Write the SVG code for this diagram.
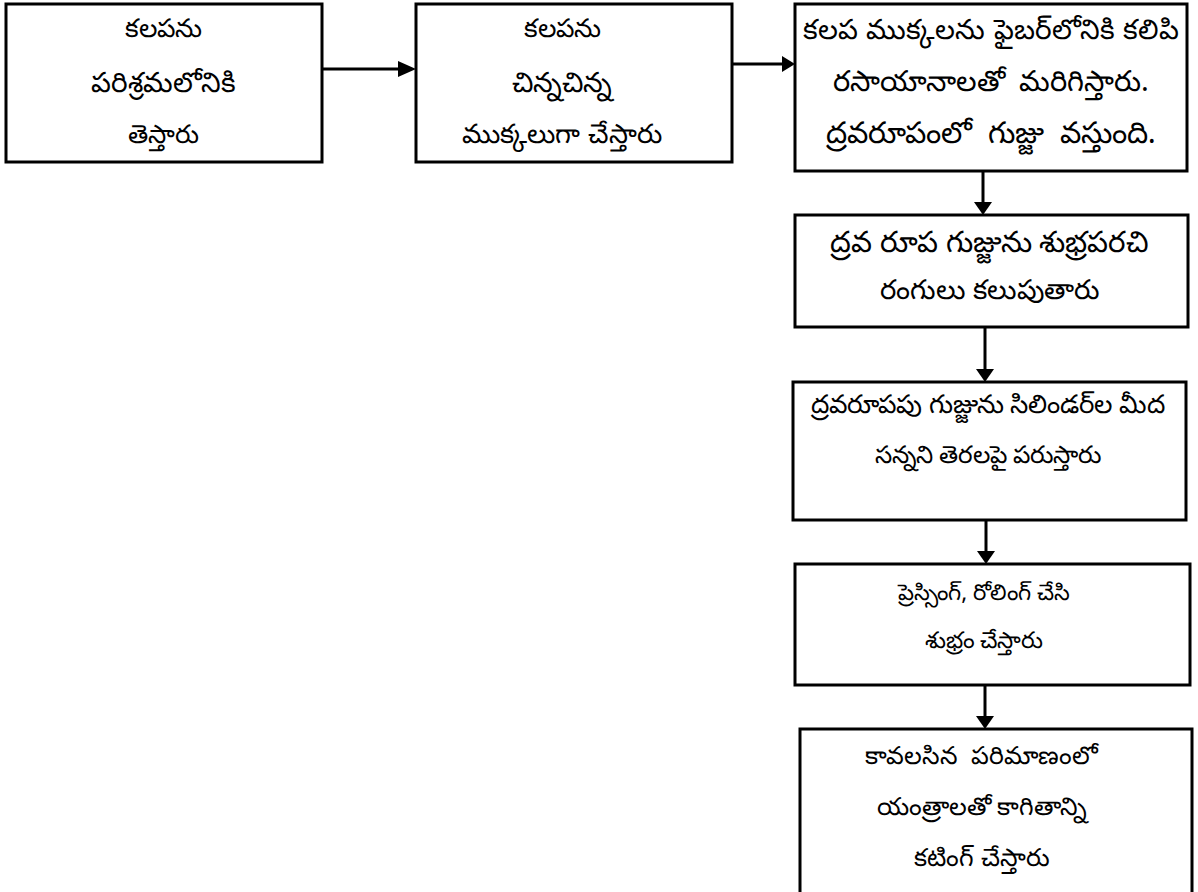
<svg xmlns="http://www.w3.org/2000/svg" width="1198" height="892" viewBox="0 0 1198 892">
<defs>
<style>
.box{fill:#fff;stroke:#000;stroke-width:3}
.t{font-family:"Noto Sans","Noto Sans CJK SC",sans-serif;font-size:26px;fill:#000;text-anchor:middle}
.c{stroke:#000;stroke-width:3;fill:none}
.h{fill:#000;stroke:none}
</style>
</defs>
<rect width="1198" height="892" fill="#fff"/>
<g id="connectors">
<line class="c" x1="322" y1="69" x2="398" y2="69"/>
<polygon class="h" points="398,61 416,69 398,77"/>
<line class="c" x1="732" y1="64" x2="783" y2="64"/>
<polygon class="h" points="782,56 795,64 782,72"/>
<line class="c" x1="983" y1="171" x2="983" y2="203"/>
<polygon class="h" points="974,202 983,215 992,202"/>
<line class="c" x1="985" y1="327" x2="985" y2="370"/>
<polygon class="h" points="976,369 985,382 994,369"/>
<line class="c" x1="986" y1="520" x2="986" y2="552"/>
<polygon class="h" points="977,551 986,564 995,551"/>
<line class="c" x1="985" y1="685" x2="985" y2="717"/>
<polygon class="h" points="976,716 985,729 994,716"/>
</g>
<g id="n1">
<rect class="box" x="6" y="4" width="316" height="158"/>
<text class="t" x="163" y="37">కలపను</text>
<text class="t" x="163" y="92" style="font-size:28px">పరిశ్రమలోనికి</text>
<text class="t" x="163" y="143">తెస్తారు</text>
</g>
<g id="n2">
<rect class="box" x="416" y="4" width="316" height="158"/>
<text class="t" x="562" y="37">కలపను</text>
<text class="t" x="562" y="92" style="font-size:28px">చిన్నచిన్న</text>
<text class="t" x="562" y="143" style="font-size:27px">ముక్కలుగా చేస్తారు</text>
</g>
<g id="n3">
<rect class="box" x="795" y="4" width="392" height="167"/>
<text class="t" x="991" y="39" style="font-size:28px;word-spacing:1px">కలప ముక్కలను ఫైబర్‌లోనికి కలిపి</text>
<text class="t" x="991" y="91" style="font-size:29px;word-spacing:6px">రసాయానాలతో మరిగిస్తారు.</text>
<text class="t" x="991" y="143" style="font-size:30px;word-spacing:8px">ద్రవరూపంలో గుజ్జు వస్తుంది.</text>
</g>
<g id="n4">
<rect class="box" x="795" y="215" width="393" height="112"/>
<text class="t" x="990" y="252" style="font-size:29.5px">ద్రవ రూప గుజ్జును శుభ్రపరచి</text>
<text class="t" x="990" y="299" style="font-size:27.5px">రంగులు కలుపుతారు</text>
</g>
<g id="n5">
<rect class="box" x="793" y="382" width="393" height="138"/>
<text class="t" x="988" y="413" style="font-size:26px">ద్రవరూపపు గుజ్జును సిలిండర్‌ల మీద</text>
<text class="t" x="988" y="463" style="font-size:24.5px">సన్నని తెరలపై పరుస్తారు</text>
</g>
<g id="n6">
<rect class="box" x="795" y="564" width="395" height="121"/>
<text class="t" x="984" y="600" style="font-size:22.5px">ప్రెస్సింగ్, రోలింగ్ చేసి</text>
<text class="t" x="984" y="648" style="font-size:23px">శుభ్రం చేస్తారు</text>
</g>
<g id="n7">
<rect class="box" x="800" y="729" width="392" height="170"/>
<text class="t" x="982" y="764" style="font-size:25px;white-space:pre">కావలసిన  పరిమాణంలో</text>
<text class="t" x="982" y="815" style="font-size:25px">యంత్రాలతో కాగితాన్ని</text>
<text class="t" x="982" y="866" style="font-size:25px">కటింగ్ చేస్తారు</text>
</g>
</svg>
